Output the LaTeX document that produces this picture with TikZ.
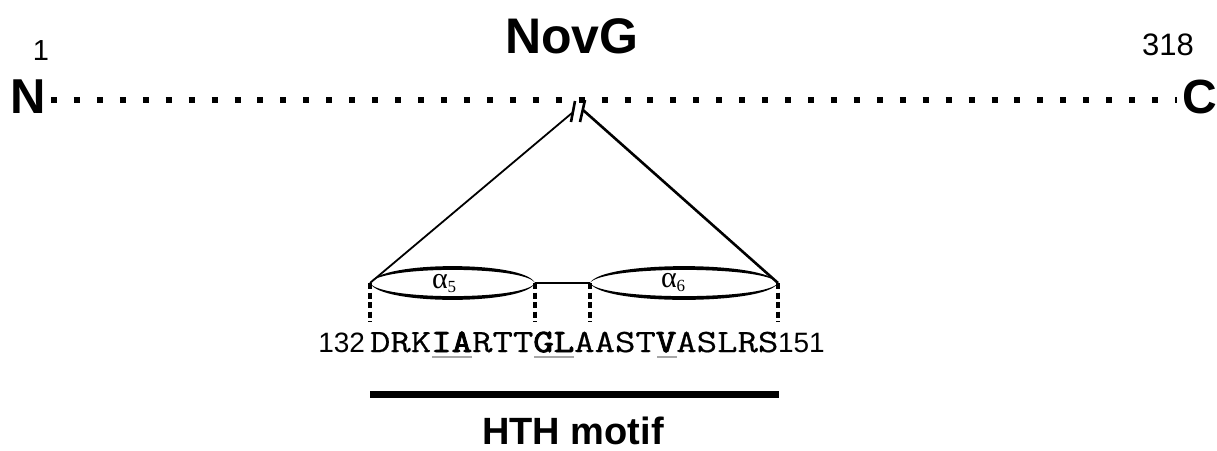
\documentclass[tikz,border=0pt]{standalone}
\usepackage{fontspec}
\setmainfont{Liberation Sans}
\newfontfamily\seqfont{Latin Modern Mono}[FakeStretch=1.22, FakeBold=0.6, BoldFont={Latin Modern Mono}, BoldFeatures={FakeBold=3}]
\newfontfamily\grkfont{Liberation Serif}
\usetikzlibrary{calc}
\newcommand{\fsz}[1]{\fontsize{#1}{#1}\selectfont}
\newcommand{\hsub}[1]{\raisebox{-4pt}{\fsz{17}#1}}

\tikzset{
  lbl/.style={inner sep=0pt, outer sep=0pt},
  dotline/.style={line width=6pt, dash pattern=on 6pt off 16.94pt},
  helixedge/.style={line width=1pt, fill=black, line join=round},
  tickline/.style={line width=4.5pt, dash pattern=on 6pt off 3.5pt},
  resline/.style={line width=1.2pt, draw=black!35},
}

% a tapered lens outline between two end points (y grows downward)
\newcommand{\lens}[2]{%
  \path let \p1=(#1), \p2=(#2), \n1={0.06*(\x2-\x1)} in
    [helixedge] (\p1) .. controls (\x1+\n1,\y1-22.5) and (\x2-\n1,\y2-22.5) .. (\p2)
      .. controls (\x2-\n1,\y2-17.5) and (\x1+\n1,\y1-17.5) .. (\p1) -- cycle
    [helixedge] (\p1) .. controls (\x1+\n1,\y1+22.5) and (\x2-\n1,\y2+22.5) .. (\p2)
      .. controls (\x2-\n1,\y2+17.5) and (\x1+\n1,\y1+17.5) .. (\p1) -- cycle;}

\begin{document}
\begin{tikzpicture}[x=1pt, y=-1pt]
\useasboundingbox (0,0) rectangle (1217,450);

% protein chain with termini
\node[lbl, anchor=base west, font=\fsz{49}\bfseries] (N) at (10,113) {N};
\node[lbl, anchor=base east, font=\fsz{48}\bfseries] (C) at (1217,113) {C};
\node[lbl, anchor=base, font=\fsz{29}] (first) at (41,60) {1};
\node[lbl, anchor=base, font=\fsz{31}] (last) at (1168,55) {318};
\node[lbl, anchor=base, font=\fsz{50}\bfseries] (title) at (572,53) {NovG};

\coordinate (chainL) at (51,100);
\coordinate (chainR) at (1177,100);
\draw[dotline] (chainL) -- (chainR);

% break mark on the chain
\coordinate (b1t) at (575,101);
\coordinate (b1b) at (571,122);
\coordinate (b2t) at (585,100);
\coordinate (b2b) at (580,122);
\draw[line width=2.6pt] (b1t) -- (b1b);
\draw[line width=2.6pt] (b2t) -- (b2b);

% helix ends
\coordinate (h5l) at (370,283);
\coordinate (h5r) at (535,283);
\coordinate (h6l) at (590,283);
\coordinate (h6r) at (778,283);

% zoom lines from the break to the helix region
\coordinate (zl) at (572,113);
\coordinate (zr) at (583,110);
\draw[line width=1.8pt] (zl) -- (h5l);
\draw[line width=2.6pt] (zr) -- (h6r);

% helices
\lens{h5l}{h5r}
\lens{h6l}{h6r}
\draw[line width=2.6pt] (h5r) -- (h6l);
\node[lbl, anchor=base west, font=\fsz{30}\grkfont] (a5) at (432,288) {α\hsub{5}};
\node[lbl, anchor=base west, font=\fsz{30}\grkfont] (a6) at (661,287) {α\hsub{6}};

% residue boundaries
\foreach \p in {h5l,h5r,h6l,h6r}
  \draw[tickline] (\p) -- ($(\p)+(0,39)$);

% sequence
\node[lbl, anchor=base east, font=\fsz{28}] (s0) at (365,352) {132};
\node[lbl, anchor=base west, font=\fsz{32.5}\seqfont] (seq) at (370,352)
  {DRK\textbf{IA}RTT\textbf{GL}AAST\textbf{V}ASLRS};
\node[lbl, anchor=base west, font=\fsz{28}] (s1) at (778,352) {151};

% marked residues
\draw[resline] ($(seq.base west)+(62,5)$) -- ($(seq.base west)+(102,5)$);
\draw[resline] ($(seq.base west)+(164,5)$) -- ($(seq.base west)+(204,5)$);
\draw[resline] ($(seq.base west)+(287,5)$) -- ($(seq.base west)+(307,5)$);

% motif bar
\coordinate (mL) at (370,394.5);
\coordinate (mR) at (779,394.5);
\draw[line width=7pt] (mL) -- (mR);
\node[lbl, anchor=base, font=\fsz{38}\bfseries] (motif) at (573,444) {HTH motif};
\end{tikzpicture}
\end{document}
